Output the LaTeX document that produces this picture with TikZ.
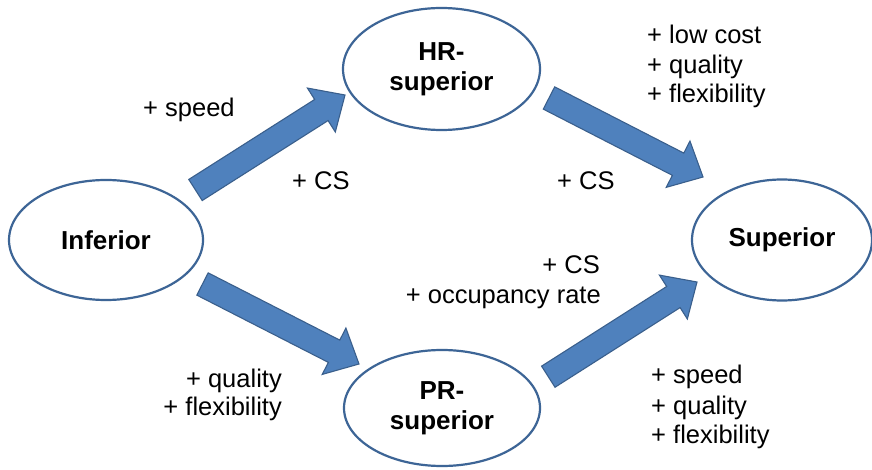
\documentclass[tikz,border=0pt]{standalone}
\usepackage{fontspec}
\setmainfont{Liberation Sans}
\usetikzlibrary{calc,shapes.geometric}

\definecolor{arrowfill}{HTML}{4F81BD}
\definecolor{arrowline}{HTML}{3A5F8C}
\definecolor{ovalline}{HTML}{3D6596}

\tikzset{
  oval/.style={ellipse, draw=ovalline, line width=2.2pt, fill=white, inner sep=0pt,
    align=center, font=\bfseries\fontsize{26}{30}\selectfont},
  lab/.style={inner sep=0pt, font=\fontsize{25.5}{30}\selectfont},
  fatarrow/.style={fill=arrowfill, draw=arrowline, line width=1.1pt, line join=miter},
}

% broad block arrow from a tail point (#1) to a tip point (#2)
\newcommand\blockarrow[2]{%
  \coordinate (ba-n) at ($(#2)!28pt!(#1)$);
  \filldraw[fatarrow]
    ($(#1)!12.5pt!90:(#2)$) -- ($(ba-n)!12.5pt!-90:(#1)$) -- ($(ba-n)!26pt!-90:(#1)$)
    -- (#2) -- ($(ba-n)!26pt!90:(#1)$) -- ($(ba-n)!12.5pt!90:(#1)$)
    -- ($(#1)!12.5pt!-90:(#2)$) -- cycle;
}

\begin{document}
\begin{tikzpicture}[x=1pt, y=-1pt]
  \useasboundingbox[fill=white] (0,0) rectangle (872,470);

  % states
  \node[oval, minimum width=194pt, minimum height=120pt] (inf) at (106,240) {Inferior};
  \node[oval, minimum width=197pt, minimum height=122pt] (hr)  at (441.5,69) {HR-\\superior};
  \node[oval, minimum width=196pt, minimum height=116pt] (pr)  at (442,408) {PR-\\superior};
  \node[oval, minimum width=180pt, minimum height=121pt] (sup) at (782,240) {Superior};

  % arrow ends
  \coordinate (a1s) at (195.5,190);  \coordinate (a1e) at (345,95);
  \coordinate (a2s) at (549,98);     \coordinate (a2e) at (703,177);
  \coordinate (a3s) at (202.5,284);  \coordinate (a3e) at (359,364);
  \coordinate (a4s) at (548.3,376.7);\coordinate (a4e) at (697,282);

  \blockarrow{a1s}{a1e}
  \blockarrow{a2s}{a2e}
  \blockarrow{a3s}{a3e}
  \blockarrow{a4s}{a4e}

  % gains along each path
  \node[lab, anchor=base west] (t1) at (143,117) {+ speed};
  \node[lab, anchor=base west] (t2) at (292,190) {+ CS};
  \node[lab, anchor=base west] (t3) at (557,190) {+ CS};
  \node[lab, anchor=base east] (t4) at (600,273) {+ CS};
  \node[lab, anchor=base east] (t5) at (601,303) {+ occupancy rate};

  \node[lab, anchor=base west] (t6) at (647,44)  {+ low cost};
  \node[lab, anchor=base west] (t7) at (647,74)  {+ quality};
  \node[lab, anchor=base west] (t8) at (647,103) {+ flexibility};

  \node[lab, anchor=base west] (t9)  at (651,383) {+ speed};
  \node[lab, anchor=base west] (t10) at (651,414) {+ quality};
  \node[lab, anchor=base west] (t11) at (651,443) {+ flexibility};

  \node[lab, anchor=base east] (t12) at (282,387) {+ quality};
  \node[lab, anchor=base east] (t13) at (282,415) {+ flexibility};
\end{tikzpicture}
\end{document}
